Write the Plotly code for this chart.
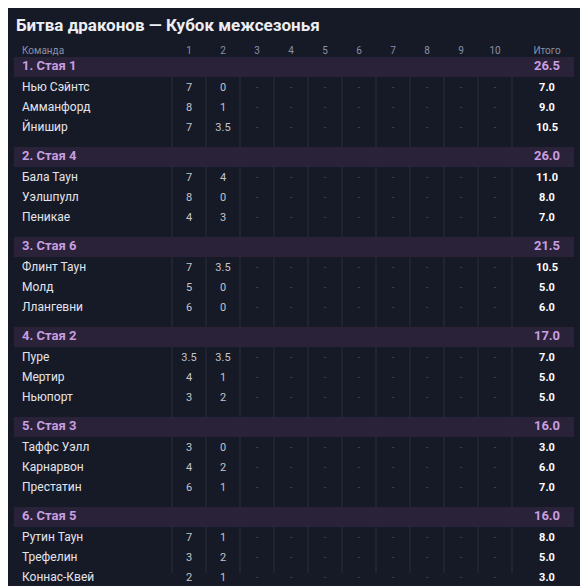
import plotly.graph_objects as go

title = "Битва драконов — Кубок межсезонья"
groups = ["1. Стая 1", "2. Стая 4", "3. Стая 6", "4. Стая 2", "5. Стая 3", "6. Стая 5"]
group_totals = [26.5, 26.0, 21.5, 17.0, 16.0, 16.0]
teams = [
    ["Нью Сэйнтс", "Амманфорд", "Йнишир"],
    ["Бала Таун", "Уэлшпулл", "Пеникае"],
    ["Флинт Таун", "Молд", "Ллангевни"],
    ["Пуре", "Мертир", "Ньюпорт"],
    ["Таффс Уэлл", "Карнарвон", "Престатин"],
    ["Рутин Таун", "Трефелин", "Коннас-Квей"],
]
round1 = [[7, 8, 7], [7, 8, 4], [7, 5, 6], [3.5, 4, 3], [3, 4, 6], [7, 3, 2]]
round2 = [[0, 1, 3.5], [4, 0, 3], [3.5, 0, 0], [3.5, 1, 2], [0, 2, 1], [1, 2, 1]]
team_totals = [[7.0, 9.0, 10.5], [11.0, 8.0, 7.0], [10.5, 5.0, 6.0],
               [7.0, 5.0, 5.0], [3.0, 6.0, 7.0], [8.0, 5.0, 3.0]]
col_labels = ["1", "2", "3", "4", "5", "6", "7", "8", "9", "10"]

BG = "#161a26"
FONT = "Roboto, Liberation Sans, sans-serif"
fig = go.Figure()
shapes = []

col_x = [189 + 34 * i for i in range(10)]
tot_x = 547

for i in range(11):
    x = 172 + 34 * i
    shapes.append(dict(type="line", x0=x, x1=x, y0=62, y1=572, xref="x", yref="y",
                       line=dict(color="rgba(120,110,150,0.22)", width=1), layer="below"))

def fmt(v):
    return str(int(v)) if float(v).is_integer() else str(v)

def add(x, y, t, c, s, pos):
    fig.add_trace(go.Scatter(x=[x], y=[y], text=[t], mode="text", textposition=pos,
                             textfont=dict(color=c, size=s, family=FONT), hoverinfo="skip",
                             showlegend=False))

add(22, 50, "Команда", "#8a8fa8", 10, "middle right")
for i, lab in enumerate(col_labels):
    add(col_x[i], 50, lab, "#8a8fa8", 10, "middle center")
add(tot_x, 50, "Итого", "#8a8fa8", 10, "middle center")

for g, name in enumerate(groups):
    gy = 66 + 90 * g
    shapes.append(dict(type="rect", x0=14, x1=574, y0=gy - 10, y1=gy + 10, xref="x", yref="y",
                       fillcolor="#2a2238", line=dict(width=0), layer="below"))
    add(22, gy, f"<b>{name}</b>", "#c89ee0", 13, "middle right")
    add(tot_x, gy, f"<b>{group_totals[g]:.1f}</b>", "#c89ee0", 13, "middle center")
    for r in range(3):
        y = gy + 21 + 20 * r
        add(22, y, teams[g][r], "#e4e4ec", 12, "middle right")
        add(col_x[0], y, fmt(round1[g][r]), "#c4c4cc", 11, "middle center")
        add(col_x[1], y, fmt(round2[g][r]), "#c4c4cc", 11, "middle center")
        for c in range(2, 10):
            add(col_x[c], y, "-", "#4a4f60", 9, "middle center")
        add(tot_x, y, f"<b>{team_totals[g][r]:.1f}</b>", "#ffffff", 11, "middle center")

fig.update_layout(
    width=588, height=586, margin=dict(l=0, r=0, t=0, b=0),
    paper_bgcolor=BG, plot_bgcolor=BG, shapes=shapes,
    xaxis=dict(range=[8, 596], visible=False, fixedrange=True),
    yaxis=dict(range=[593, 7], visible=False, fixedrange=True),
    annotations=[dict(text=f"<b>{title}</b>", x=14, y=24, xref="x", yref="y",
                      xanchor="left", yanchor="middle", showarrow=False,
                      font=dict(color="#eceef4", size=17, family=FONT))],
)
fig.write_html("out.html")
